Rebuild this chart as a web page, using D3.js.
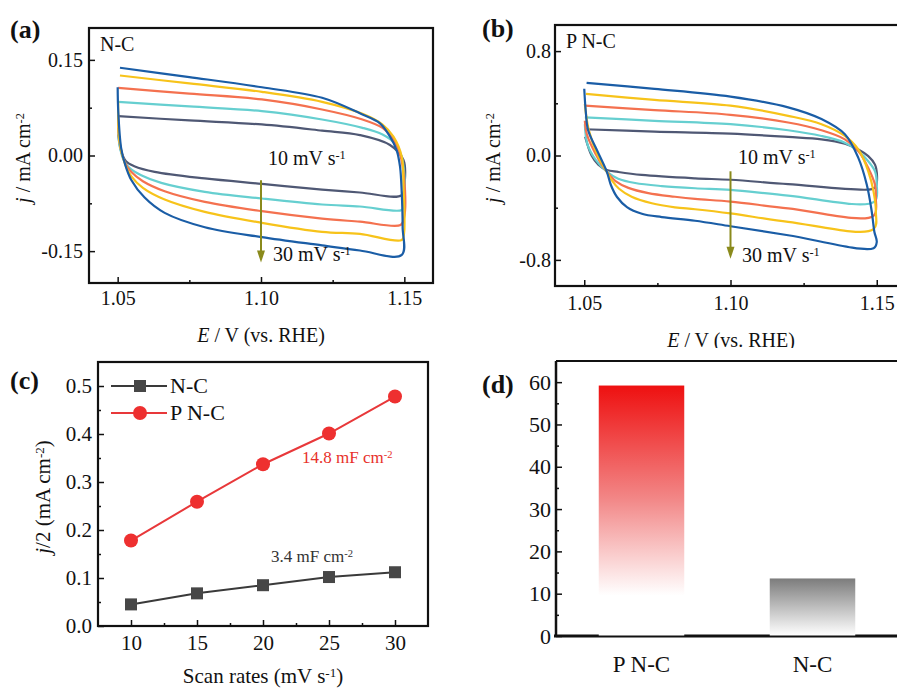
<!DOCTYPE html>
<html>
<head>
<meta charset="utf-8">
<script src="https://cdn.jsdelivr.net/npm/d3@7"></script>
<style>
  body { margin: 0; background: #fff; }
  svg text { font-family: "Liberation Serif", "DejaVu Serif", serif; }
</style>
</head>
<body>
<div id="fig"></div>
<script>
// ---- data ----
// CV loops (E in V vs RHE, j in mA cm-2), N-C
var nc10 = [[1.0502,0.0617],[1.075,0.055],[1.1003,0.0487],[1.1213,0.039],[1.1345,0.032],[1.145,0.0165],[1.1497,-0.007],[1.1502,-0.038],[1.1491,-0.062],[1.1345,-0.058],[1.1213,-0.0534],[1.1003,-0.0445],[1.0804,-0.036],[1.0629,-0.0256],[1.0558,-0.0167],[1.0529,-0.009],[1.0512,0.0068],[1.0502,0.033]];
var nc15 = [[1.0502,0.0842],[1.075,0.077],[1.1003,0.0696],[1.1213,0.0565],[1.1354,0.0434],[1.1424,0.033],[1.1465,0.0199],[1.1488,0.0016],[1.15,-0.030],[1.1498,-0.078],[1.1491,-0.0855],[1.1345,-0.080],[1.1213,-0.0769],[1.1003,-0.0675],[1.0804,-0.057],[1.0652,-0.0429],[1.0582,-0.0309],[1.0541,-0.0194],[1.0523,-0.009],[1.0506,0.0173],[1.0502,0.0434]];
var nc20 = [[1.0502,0.1062],[1.075,0.097],[1.1003,0.0879],[1.1213,0.0722],[1.1354,0.0565],[1.1424,0.0434],[1.1459,0.0277],[1.1482,0.0068],[1.1499,-0.035],[1.1499,-0.098],[1.1487,-0.109],[1.1345,-0.1038],[1.1213,-0.0989],[1.1003,-0.0873],[1.0804,-0.0727],[1.0664,-0.056],[1.0588,-0.0403],[1.0547,-0.0256],[1.0526,-0.0115],[1.0506,0.0225],[1.0502,0.064]];
var nc25 = [[1.0508,0.1255],[1.075,0.113],[1.1003,0.0999],[1.1213,0.0842],[1.1354,0.0654],[1.1424,0.0486],[1.1462,0.0295],[1.1491,-0.0019],[1.1497,-0.049],[1.1499,-0.122],[1.1491,-0.1325],[1.1345,-0.123],[1.1213,-0.1198],[1.1003,-0.1056],[1.0804,-0.0884],[1.0664,-0.069],[1.0588,-0.0507],[1.0547,-0.0324],[1.0526,-0.014],[1.0506,0.0225],[1.0502,0.085]];
var nc30 = [[1.0508,0.1376],[1.075,0.123],[1.1003,0.107],[1.1213,0.0905],[1.1345,0.0662],[1.1415,0.0505],[1.145,0.0295],[1.1473,0.0086],[1.1485,-0.0176],[1.1491,-0.0593],[1.1494,-0.112],[1.1491,-0.156],[1.1345,-0.149],[1.1213,-0.141],[1.1003,-0.128],[1.0804,-0.1125],[1.0664,-0.090],[1.0594,-0.066],[1.0547,-0.038],[1.0526,-0.014],[1.0512,0.012],[1.0502,0.07],[1.05,0.107]];

// CV loops, P N-C
var pnc10 = [[1.05,0.201],[1.074,0.183],[1.1,0.168],[1.1197,0.142],[1.1311,0.124],[1.1391,0.0903],[1.1437,0.046],[1.1471,-0.005],[1.1494,-0.070],[1.1501,-0.160],[1.1497,-0.237],[1.1483,-0.258],[1.1197,-0.219],[1.1,-0.186],[1.0879,-0.175],[1.0696,-0.149],[1.0616,-0.126],[1.0577,-0.111],[1.0548,-0.07],[1.0525,0.0],[1.0503,0.144]];
var pnc15 = [[1.0502,0.2915],[1.074,0.266],[1.1,0.24],[1.1197,0.1935],[1.1311,0.1496],[1.1391,0.098],[1.1437,0.0335],[1.1471,-0.044],[1.1494,-0.121],[1.15,-0.224],[1.1492,-0.353],[1.1197,-0.307],[1.1,-0.263],[1.0879,-0.251],[1.0765,-0.234],[1.0674,-0.211],[1.0616,-0.178],[1.0577,-0.124],[1.0538,-0.03],[1.0511,0.085],[1.0502,0.24]];
var pnc20 = [[1.0502,0.382],[1.074,0.348],[1.1,0.312],[1.1197,0.253],[1.1311,0.1935],[1.1391,0.124],[1.1437,0.0335],[1.1471,-0.095],[1.1494,-0.224],[1.1497,-0.328],[1.1489,-0.462],[1.1197,-0.405],[1.1,-0.353],[1.0879,-0.333],[1.081,-0.316],[1.0719,-0.288],[1.0651,-0.248],[1.0607,-0.196],[1.0577,-0.124],[1.0537,0.02],[1.0509,0.1625],[1.0502,0.266]];
var pnc25 = [[1.0506,0.472],[1.074,0.426],[1.1,0.382],[1.1197,0.304],[1.1311,0.240],[1.1391,0.1496],[1.1437,0.046],[1.1471,-0.121],[1.1489,-0.276],[1.1497,-0.431],[1.1489,-0.565],[1.1197,-0.508],[1.1,-0.444],[1.0879,-0.412],[1.081,-0.397],[1.0731,-0.366],[1.0662,-0.316],[1.0619,-0.255],[1.0595,-0.193],[1.0577,-0.124],[1.0546,0.0],[1.0515,0.2],[1.0502,0.395]];
var pnc30 = [[1.0508,0.557],[1.074,0.511],[1.1,0.4515],[1.1197,0.369],[1.1311,0.279],[1.1391,0.1626],[1.1437,-0.018],[1.1466,-0.224],[1.1483,-0.431],[1.1492,-0.586],[1.15,-0.663],[1.1489,-0.71],[1.1197,-0.611],[1.1,-0.542],[1.0879,-0.50],[1.0765,-0.472],[1.0697,-0.446],[1.0646,-0.395],[1.0612,-0.318],[1.0591,-0.226],[1.0577,-0.124],[1.054,0.057],[1.0513,0.195],[1.0505,0.343],[1.05,0.511]];

var cvColors = ["#4f5874", "#66cfd0", "#f4714f", "#f7c31a", "#1a5da6"]; // 10,15,20,25,30 mV/s

// panel c
var scanRates = [10, 15, 20, 25, 30];
var ncHalfJ = [0.045, 0.068, 0.085, 0.102, 0.112];
var pncHalfJ = [0.178, 0.259, 0.337, 0.401, 0.478];

// panel d
var barNames = ["P N-C", "N-C"];
var barValues = [59.2, 13.6];

var FONT = "'Liberation Serif', 'DejaVu Serif', serif";
var W = 897, H = 691;
var svg = d3.select("#fig").append("svg").attr("width", W).attr("height", H).attr("font-family", FONT);
svg.append("rect").attr("width", W).attr("height", H).attr("fill", "#fff");

var defs = svg.append("defs");
var redGrad = defs.append("linearGradient").attr("id", "redGrad").attr("x1", 0).attr("y1", 0).attr("x2", 0).attr("y2", 1);
redGrad.append("stop").attr("offset", "0").attr("stop-color", "#ee1010");
redGrad.append("stop").attr("offset", "0.45").attr("stop-color", "#f28686");
redGrad.append("stop").attr("offset", "0.84").attr("stop-color", "#ffffff");
redGrad.append("stop").attr("offset", "1").attr("stop-color", "#ffffff");
var grayGrad = defs.append("linearGradient").attr("id", "grayGrad").attr("x1", 0).attr("y1", 0).attr("x2", 0).attr("y2", 1);
grayGrad.append("stop").attr("offset", "0").attr("stop-color", "#7c7c7c");
grayGrad.append("stop").attr("offset", "1").attr("stop-color", "#ffffff");

defs.append("clipPath").attr("id", "clipB").append("rect")
    .attr("x", 447).attr("y", 0).attr("width", 450).attr("height", 348);

function txt(g, x, y, size) {
  return g.append("text").attr("x", x).attr("y", y).style("font-size", size + "px")
    .style("font-family", FONT).attr("fill", "#111");
}

function supLabel(sel, parts) {
  // parts: [text, kind] kind: "i" italic, "s" superscript, "r" back to baseline
  parts.forEach(function(p) {
    var t = sel.append("tspan").text(p[0]);
    if (p[1] == "i") t.style("font-style", "italic");
    if (p[1] == "s") t.attr("dy", "-0.45em").style("font-size", "0.62em");
    if (p[1] == "r") t.attr("dy", "0.28em");
  });
  return sel;
}

function styleAxis(g, fs) {
  g.attr("font-family", null).attr("font-size", null);
  g.select(".domain").remove();
  g.selectAll(".tick line").attr("stroke", "#111").attr("stroke-width", 1.5);
  g.selectAll(".tick text").attr("fill", "#111").style("font-size", fs + "px").style("font-family", FONT);
}

function frame(g, x0, y0, x1, y1, sw) {
  g.append("rect").attr("x", x0).attr("y", y0).attr("width", x1 - x0).attr("height", y1 - y0)
    .attr("fill", "none").attr("stroke", "#111").attr("stroke-width", sw);
}

// ---------- panels a and b: CV loops ----------
function cvPanel(g, box, yDom, yTicks, yMinor, yFmt, curves, arrowJ, label, t10, t30, xPad) {
  var x = d3.scaleLinear().domain([1.04, 1.16]).range([box.l, box.r]);
  var y = d3.scaleLinear().domain(yDom).range([box.b, box.t]);

  var line = d3.line().x(function(d) { return x(d[0]); }).y(function(d) { return y(d[1]); })
      .curve(d3.curveCatmullRom.alpha(0.5));
  curves.forEach(function(c, i) {
    g.append("path").attr("d", line(c)).attr("fill", "none")
      .attr("stroke", cvColors[i]).attr("stroke-width", 2.2).attr("stroke-linejoin", "round");
  });

  // scan-rate arrow
  var ax0 = x(1.10), yEnd = y(arrowJ[1]);
  g.append("line").attr("x1", ax0).attr("x2", ax0).attr("y1", y(arrowJ[0])).attr("y2", yEnd - 10)
    .attr("stroke", "#8a8a1c").attr("stroke-width", 2);
  g.append("path")
    .attr("d", "M" + (ax0 - 4) + "," + (yEnd - 12) + " L" + (ax0 + 4) + "," + (yEnd - 12) + " L" + ax0 + "," + yEnd + " Z")
    .attr("fill", "#8a8a1c");

  frame(g, box.l, box.t, box.r, box.b, 2.2);

  var ax = g.append("g").attr("transform", "translate(0," + box.b + ")")
    .call(d3.axisBottom(x).tickValues([1.05, 1.10, 1.15]).tickFormat(d3.format(".2f")).tickSize(-6).tickPadding(xPad));
  styleAxis(ax, 20);
  var axm = g.append("g").attr("transform", "translate(0," + box.b + ")")
    .call(d3.axisBottom(x).tickValues([1.075, 1.125]).tickFormat("").tickSize(-3));
  styleAxis(axm, 20);
  var ay = g.append("g").attr("transform", "translate(" + box.l + ",0)")
    .call(d3.axisLeft(y).tickValues(yTicks).tickSize(-6).tickPadding(box.yPad)
      .tickFormat(function(d) { return d < 0 ? "-" + yFmt(-d) : yFmt(d); }));
  styleAxis(ay, 20);
  var aym = g.append("g").attr("transform", "translate(" + box.l + ",0)")
    .call(d3.axisLeft(y).tickValues(yMinor).tickFormat("").tickSize(-3));
  styleAxis(aym, 20);

  txt(g, box.l + 11, box.t + 23, 20).text(label);
  supLabel(txt(g, t10[0], t10[1], 20), [["10 mV s", ""], ["-1", "s"]]);
  supLabel(txt(g, t30[0], t30[1], 20), [["30 mV s", ""], ["-1", "s"]]);
}

var gA = svg.append("g");
cvPanel(gA, {l: 89, r: 433, t: 28, b: 283, yPad: 6}, [-0.2, 0.2], [-0.15, 0, 0.15], [-0.075, 0.075], d3.format(".2f"),
  [nc10, nc15, nc20, nc25, nc30], [-0.039, -0.168], "N-C", [268, 165], [273, 261], 8);
supLabel(txt(gA, 0, 0, 20).attr("transform", "translate(30,158) rotate(-90)").attr("text-anchor", "middle"),
  [["j", "i"], [" / mA cm", ""], ["-2", "s"]]);
supLabel(txt(gA, 261, 342, 20).attr("text-anchor", "middle"), [["E", "i"], [" / V (vs. RHE)", ""]]);
txt(gA, 10, 38, 26).style("font-weight", "bold").text("(a)");

var gB = svg.append("g").attr("clip-path", "url(#clipB)");
cvPanel(gB, {l: 555, r: 906, t: 25, b: 286, yPad: 4}, [-1, 1], [-0.8, 0, 0.8], [-0.4, 0.4], d3.format(".1f"),
  [pnc10, pnc15, pnc20, pnc25, pnc30], [-0.121, -0.792], "P N-C", [738, 164], [742, 262], 10);
supLabel(txt(gB, 0, 0, 20).attr("transform", "translate(500,158) rotate(-90)").attr("text-anchor", "middle"),
  [["j", "i"], [" / mA cm", ""], ["-2", "s"]]);
supLabel(txt(gB, 731, 347, 20).attr("text-anchor", "middle"), [["E", "i"], [" / V (vs. RHE)", ""]]);
txt(gB, 482, 37, 26).style("font-weight", "bold").text("(b)");

// ---------- panel c ----------
var gC = svg.append("g");
var xc = d3.scaleLinear().domain([7.5, 32.5]).range([98, 428]);
var yc = d3.scaleLinear().domain([0, 0.55]).range([626, 362]);
var lineC = d3.line().x(function(d) { return xc(d[0]); }).y(function(d) { return yc(d[1]); });
var ncPts = scanRates.map(function(s, i) { return [s, ncHalfJ[i]]; });
var pncPts = scanRates.map(function(s, i) { return [s, pncHalfJ[i]]; });

gC.append("path").attr("d", lineC(ncPts)).attr("fill", "none").attr("stroke", "#3a3a3a").attr("stroke-width", 2);
gC.append("path").attr("d", lineC(pncPts)).attr("fill", "none").attr("stroke", "#e8383a").attr("stroke-width", 2);
gC.selectAll(".sq").data(ncPts).enter().append("rect")
  .attr("x", function(d) { return xc(d[0]) - 6; }).attr("y", function(d) { return yc(d[1]) - 6; })
  .attr("width", 12).attr("height", 12).attr("fill", "#474747");
gC.selectAll(".dot").data(pncPts).enter().append("circle")
  .attr("cx", function(d) { return xc(d[0]); }).attr("cy", function(d) { return yc(d[1]); })
  .attr("r", 7).attr("fill", "#ee3030");

frame(gC, 98, 362, 428, 626, 2.2);
var cx1 = gC.append("g").attr("transform", "translate(0,626)")
  .call(d3.axisBottom(xc).tickValues(scanRates).tickSize(-6).tickPadding(9));
styleAxis(cx1, 21);
var cx2 = gC.append("g").attr("transform", "translate(0,626)")
  .call(d3.axisBottom(xc).tickValues([12.5, 17.5, 22.5, 27.5]).tickFormat("").tickSize(-3));
styleAxis(cx2, 21);
var cy1 = gC.append("g").attr("transform", "translate(98,0)")
  .call(d3.axisLeft(yc).tickValues([0, 0.1, 0.2, 0.3, 0.4, 0.5]).tickFormat(d3.format(".1f")).tickSize(-6).tickPadding(6));
styleAxis(cy1, 21);
var cy2 = gC.append("g").attr("transform", "translate(98,0)")
  .call(d3.axisLeft(yc).tickValues([0.05, 0.15, 0.25, 0.35, 0.45]).tickFormat("").tickSize(-3));
styleAxis(cy2, 21);

// legend
gC.append("line").attr("x1", 111).attr("x2", 167).attr("y1", 386).attr("y2", 386).attr("stroke", "#3a3a3a").attr("stroke-width", 2);
gC.append("rect").attr("x", 134).attr("y", 380).attr("width", 12).attr("height", 12).attr("fill", "#474747");
txt(gC, 170, 393, 22).text("N-C");
gC.append("line").attr("x1", 111).attr("x2", 167).attr("y1", 413).attr("y2", 413).attr("stroke", "#e8383a").attr("stroke-width", 2);
gC.append("circle").attr("cx", 140).attr("cy", 413).attr("r", 7).attr("fill", "#ee3030");
txt(gC, 170, 420, 22).text("P N-C");

supLabel(txt(gC, 302, 463, 17).attr("fill", "#e8302a"), [["14.8 mF cm", ""], ["-2", "s"]]);
supLabel(txt(gC, 271, 562, 17).attr("fill", "#333"), [["3.4 mF cm", ""], ["-2", "s"]]);
supLabel(txt(gC, 0, 0, 21).attr("transform", "translate(50,497) rotate(-90)").attr("text-anchor", "middle"),
  [["j", "i"], ["/2 (mA cm", ""], ["-2", "s"], [")", "r"]]);
supLabel(txt(gC, 263, 683, 21).attr("text-anchor", "middle"), [["Scan rates (mV s", ""], ["-1", "s"], [")", "r"]]);
txt(gC, 10, 389, 26).style("font-weight", "bold").text("(c)");

// ---------- panel d ----------
var gD = svg.append("g");
var xd = d3.scaleBand().domain(barNames).range([556, 898]).paddingInner(0.5).paddingOuter(0.25);
var yd = d3.scaleLinear().domain([0, 65]).range([636, 361]);

gD.append("line").attr("x1", 556).attr("x2", 899).attr("y1", 361).attr("y2", 361).attr("stroke", "#111").attr("stroke-width", 2.2);
gD.append("line").attr("x1", 556).attr("x2", 556).attr("y1", 361).attr("y2", 636).attr("stroke", "#111").attr("stroke-width", 2.5);
gD.append("line").attr("x1", 554).attr("x2", 899).attr("y1", 636).attr("y2", 636).attr("stroke", "#111").attr("stroke-width", 3);

gD.selectAll(".bar").data(barValues).enter().append("rect")
  .attr("x", function(d, i) { return xd(barNames[i]); })
  .attr("y", function(d) { return yd(d); })
  .attr("width", xd.bandwidth())
  .attr("height", function(d) { return yd(0) - yd(d) - 0.5; })
  .attr("fill", function(d, i) { return i == 0 ? "url(#redGrad)" : "url(#grayGrad)"; });

var dx = gD.append("g").attr("transform", "translate(0,636)")
  .call(d3.axisBottom(xd).tickSize(0).tickPadding(20));
styleAxis(dx, 23);
var dy1 = gD.append("g").attr("transform", "translate(556,0)")
  .call(d3.axisLeft(yd).tickValues([0, 10, 20, 30, 40, 50, 60]).tickSize(-6).tickPadding(5));
styleAxis(dy1, 22);
var dy2 = gD.append("g").attr("transform", "translate(556,0)")
  .call(d3.axisLeft(yd).tickValues([5, 15, 25, 35, 45, 55]).tickFormat("").tickSize(-3));
styleAxis(dy2, 22);
txt(gD, 482, 393, 26).style("font-weight", "bold").text("(d)");
</script>
</body>
</html>
